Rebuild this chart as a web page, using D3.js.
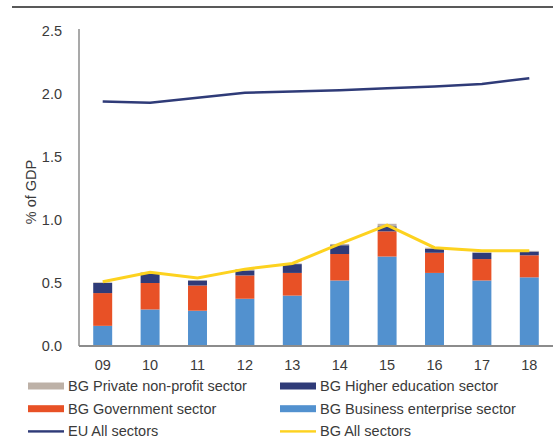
<!DOCTYPE html>
<html>
<head>
<meta charset="utf-8">
<script src="https://cdn.jsdelivr.net/npm/d3@7/dist/d3.min.js"></script>
<style>
  body { margin: 0; background: #fff; }
  text { font-family: "Liberation Sans", Arial, sans-serif; fill: #3a3a3a; }
</style>
</head>
<body>
<script>
// years on the x axis
var years = ["09", "10", "11", "12", "13", "14", "15", "16", "17", "18"];

// bar components, % of GDP (bottom to top)
var business = [0.16, 0.29, 0.28, 0.375, 0.40, 0.52, 0.71, 0.58, 0.52, 0.545];
var government = [0.26, 0.21, 0.20, 0.185, 0.18, 0.21, 0.20, 0.16, 0.17, 0.175];
var higherEd = [0.08, 0.08, 0.04, 0.04, 0.07, 0.07, 0.04, 0.03, 0.05, 0.03];
var privateNP = [0.005, 0.005, 0.003, 0.01, 0.005, 0.01, 0.02, 0.01, 0.005, 0.005];

// lines
var euAll = [1.94, 1.93, 1.97, 2.01, 2.02, 2.03, 2.045, 2.06, 2.08, 2.125];
var bgAll = [0.51, 0.585, 0.54, 0.61, 0.655, 0.81, 0.96, 0.78, 0.755, 0.755];

var yTicks = [0, 0.5, 1.0, 1.5, 2.0, 2.5];

var W = 553, H = 443;
var svg = d3.select("body").append("svg").attr("width", W).attr("height", H);

// rule at the top
svg.append("line")
  .attr("x1", 12).attr("x2", W).attr("y1", 7).attr("y2", 7)
  .attr("stroke", "#222").attr("stroke-width", 1.5);

var x = d3.scaleBand().domain(years).range([79, 553]).paddingInner(0.6).paddingOuter(0.3);
var y = d3.scaleLinear().domain([0, 2.5]).range([346, 31]);

var keys = ["business", "government", "higherEd", "privateNP"];
var colors = { business: "#5291cf", government: "#e85126", higherEd: "#2f3b78", privateNP: "#bdb1a7" };
var rows = years.map(function(yr, i) {
  return { year: yr, business: business[i], government: government[i], higherEd: higherEd[i], privateNP: privateNP[i] };
});
var stacked = d3.stack().keys(keys)(rows);

svg.append("g").selectAll("g")
  .data(stacked)
  .enter().append("g")
  .attr("fill", function(d) { return colors[d.key]; })
  .selectAll("rect")
  .data(function(d) { return d; })
  .enter().append("rect")
  .attr("x", function(d) { return x(d.data.year); })
  .attr("width", x.bandwidth())
  .attr("y", function(d) { return y(d[1]); })
  .attr("height", function(d) { return y(d[0]) - y(d[1]); });

// axes
var yAxis = svg.append("g").attr("transform", "translate(79,0)")
  .call(d3.axisLeft(y).tickValues(yTicks).tickSize(0).tickPadding(17).tickFormat(d3.format(".1f")));
yAxis.select(".domain").attr("stroke", "#8c8c8c").attr("stroke-width", 1.5).attr("d", "M0,29V346");
yAxis.selectAll("text").attr("font-size", 14.5).style("fill", "#3a3a3a");

var xAxis = svg.append("g").attr("transform", "translate(0,346)")
  .call(d3.axisBottom(x).tickSize(0).tickPadding(14));
xAxis.select(".domain").attr("stroke", "#8c8c8c").attr("stroke-width", 2).attr("d", "M79,0H553");
xAxis.selectAll("text").attr("font-size", 14.5).style("fill", "#3a3a3a");

svg.append("text")
  .attr("transform", "translate(36,192) rotate(-90)")
  .attr("text-anchor", "middle")
  .attr("font-size", 14.5)
  .text("% of GDP");

// lines
var line = d3.line()
  .x(function(d, i) { return x(years[i]) + x.bandwidth() / 2; })
  .y(function(d) { return y(d); });

svg.append("path").datum(bgAll)
  .attr("fill", "none").attr("stroke", "#fdd21f").attr("stroke-width", 3)
  .attr("d", line);
svg.append("path").datum(euAll)
  .attr("fill", "none").attr("stroke", "#2f3b78").attr("stroke-width", 2.5)
  .attr("d", line);

// legend
var legend = [
  { label: "BG Private non-profit sector", color: colors.privateNP, type: "bar" },
  { label: "BG Higher education sector", color: colors.higherEd, type: "bar" },
  { label: "BG Government sector", color: colors.government, type: "bar" },
  { label: "BG Business enterprise sector", color: colors.business, type: "bar" },
  { label: "EU All sectors", color: "#2f3b78", type: "line" },
  { label: "BG All sectors", color: "#fdd21f", type: "line" }
];
var lg = svg.append("g").selectAll("g")
  .data(legend)
  .enter().append("g")
  .attr("transform", function(d, i) {
    return "translate(" + (i % 2 === 0 ? 28 : 280) + "," + (386 + Math.floor(i / 2) * 22.7) + ")";
  });
lg.append("rect")
  .attr("x", 0).attr("width", 36)
  .attr("y", function(d) { return d.type === "bar" ? -3.5 : -1.2; })
  .attr("height", function(d) { return d.type === "bar" ? 7 : 2.4; })
  .attr("fill", function(d) { return d.color; });
lg.append("text")
  .attr("x", 40).attr("y", 5)
  .attr("font-size", 14.5)
  .text(function(d) { return d.label; });
</script>
</body>
</html>
